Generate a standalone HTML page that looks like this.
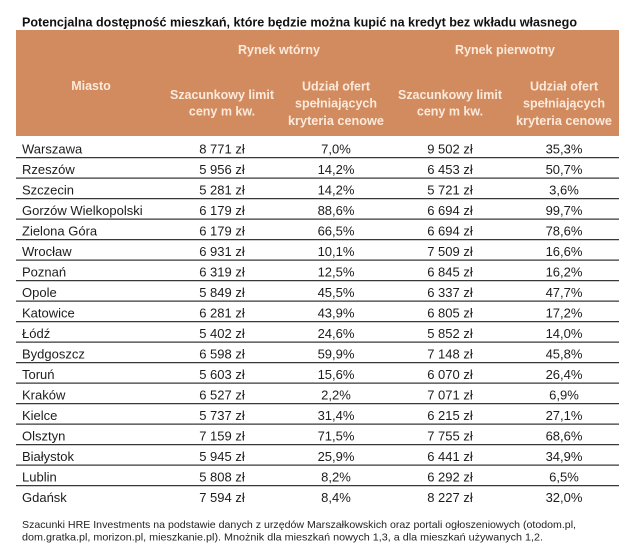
<!DOCTYPE html>
<html><head><meta charset="utf-8"><style>
html,body{margin:0;padding:0;background:#fff;}
svg{display:block;}
.b{font-family:"Liberation Sans",sans-serif;font-size:13px;fill:#1c1c1c;}
.h{font-family:"Liberation Sans",sans-serif;font-size:12.5px;font-weight:bold;fill:#fbeadb;}
</style></head><body>
<svg width="640" height="551" viewBox="0 0 640 551" xmlns="http://www.w3.org/2000/svg">
<rect x="0" y="0" width="640" height="551" fill="#fff"/>
<text x="22" y="26.7" font-family="Liberation Sans, sans-serif" font-size="13" font-weight="bold" fill="#111" textLength="555" lengthAdjust="spacingAndGlyphs">Potencjalna dostępność mieszkań, które będzie można kupić na kredyt bez wkładu własnego</text>
<rect x="16" y="30" width="603" height="106" fill="#d28b5f"/>
<g class="h" text-anchor="middle">
<text x="279" y="54">Rynek wtórny</text>
<text x="505" y="54">Rynek pierwotny</text>
<text x="91" y="90">Miasto</text>
<text x="222" y="99" textLength="104" lengthAdjust="spacingAndGlyphs">Szacunkowy limit</text>
<text x="222" y="115.5">ceny m kw.</text>
<text x="450" y="99" textLength="104" lengthAdjust="spacingAndGlyphs">Szacunkowy limit</text>
<text x="450" y="115.5">ceny m kw.</text>
<text x="336" y="90.5">Udział ofert</text>
<text x="336" y="107.5">spełniających</text>
<text x="336" y="125" textLength="96" lengthAdjust="spacingAndGlyphs">kryteria cenowe</text>
<text x="564" y="90.5">Udział ofert</text>
<text x="564" y="107.5">spełniających</text>
<text x="564" y="125" textLength="96" lengthAdjust="spacingAndGlyphs">kryteria cenowe</text>
</g>
<g stroke="#383838" stroke-width="1.3">
<line x1="16" x2="619" y1="157.6" y2="157.6"/>
<line x1="16" x2="619" y1="178.1" y2="178.1"/>
<line x1="16" x2="619" y1="198.6" y2="198.6"/>
<line x1="16" x2="619" y1="219.1" y2="219.1"/>
<line x1="16" x2="619" y1="239.6" y2="239.6"/>
<line x1="16" x2="619" y1="260.1" y2="260.1"/>
<line x1="16" x2="619" y1="280.6" y2="280.6"/>
<line x1="16" x2="619" y1="301.1" y2="301.1"/>
<line x1="16" x2="619" y1="321.6" y2="321.6"/>
<line x1="16" x2="619" y1="342.1" y2="342.1"/>
<line x1="16" x2="619" y1="362.6" y2="362.6"/>
<line x1="16" x2="619" y1="383.1" y2="383.1"/>
<line x1="16" x2="619" y1="403.6" y2="403.6"/>
<line x1="16" x2="619" y1="424.1" y2="424.1"/>
<line x1="16" x2="619" y1="444.6" y2="444.6"/>
<line x1="16" x2="619" y1="465.1" y2="465.1"/>
<line x1="16" x2="619" y1="485.6" y2="485.6"/>
</g>
<g class="b">
<text x="22" y="153.6">Warszawa</text>
<text x="22" y="174.1">Rzeszów</text>
<text x="22" y="194.6">Szczecin</text>
<text x="22" y="215.1">Gorzów Wielkopolski</text>
<text x="22" y="235.6">Zielona Góra</text>
<text x="22" y="256.1">Wrocław</text>
<text x="22" y="276.6">Poznań</text>
<text x="22" y="297.1">Opole</text>
<text x="22" y="317.6">Katowice</text>
<text x="22" y="338.1">Łódź</text>
<text x="22" y="358.6">Bydgoszcz</text>
<text x="22" y="379.1">Toruń</text>
<text x="22" y="399.6">Kraków</text>
<text x="22" y="420.1">Kielce</text>
<text x="22" y="440.6">Olsztyn</text>
<text x="22" y="461.1">Białystok</text>
<text x="22" y="481.6">Lublin</text>
<text x="22" y="502.1">Gdańsk</text>
</g>
<g class="b" text-anchor="middle">
<text x="222" y="153.6">8 771 zł</text><text x="336" y="153.6">7,0%</text><text x="450" y="153.6">9 502 zł</text><text x="564" y="153.6">35,3%</text>
<text x="222" y="174.1">5 956 zł</text><text x="336" y="174.1">14,2%</text><text x="450" y="174.1">6 453 zł</text><text x="564" y="174.1">50,7%</text>
<text x="222" y="194.6">5 281 zł</text><text x="336" y="194.6">14,2%</text><text x="450" y="194.6">5 721 zł</text><text x="564" y="194.6">3,6%</text>
<text x="222" y="215.1">6 179 zł</text><text x="336" y="215.1">88,6%</text><text x="450" y="215.1">6 694 zł</text><text x="564" y="215.1">99,7%</text>
<text x="222" y="235.6">6 179 zł</text><text x="336" y="235.6">66,5%</text><text x="450" y="235.6">6 694 zł</text><text x="564" y="235.6">78,6%</text>
<text x="222" y="256.1">6 931 zł</text><text x="336" y="256.1">10,1%</text><text x="450" y="256.1">7 509 zł</text><text x="564" y="256.1">16,6%</text>
<text x="222" y="276.6">6 319 zł</text><text x="336" y="276.6">12,5%</text><text x="450" y="276.6">6 845 zł</text><text x="564" y="276.6">16,2%</text>
<text x="222" y="297.1">5 849 zł</text><text x="336" y="297.1">45,5%</text><text x="450" y="297.1">6 337 zł</text><text x="564" y="297.1">47,7%</text>
<text x="222" y="317.6">6 281 zł</text><text x="336" y="317.6">43,9%</text><text x="450" y="317.6">6 805 zł</text><text x="564" y="317.6">17,2%</text>
<text x="222" y="338.1">5 402 zł</text><text x="336" y="338.1">24,6%</text><text x="450" y="338.1">5 852 zł</text><text x="564" y="338.1">14,0%</text>
<text x="222" y="358.6">6 598 zł</text><text x="336" y="358.6">59,9%</text><text x="450" y="358.6">7 148 zł</text><text x="564" y="358.6">45,8%</text>
<text x="222" y="379.1">5 603 zł</text><text x="336" y="379.1">15,6%</text><text x="450" y="379.1">6 070 zł</text><text x="564" y="379.1">26,4%</text>
<text x="222" y="399.6">6 527 zł</text><text x="336" y="399.6">2,2%</text><text x="450" y="399.6">7 071 zł</text><text x="564" y="399.6">6,9%</text>
<text x="222" y="420.1">5 737 zł</text><text x="336" y="420.1">31,4%</text><text x="450" y="420.1">6 215 zł</text><text x="564" y="420.1">27,1%</text>
<text x="222" y="440.6">7 159 zł</text><text x="336" y="440.6">71,5%</text><text x="450" y="440.6">7 755 zł</text><text x="564" y="440.6">68,6%</text>
<text x="222" y="461.1">5 945 zł</text><text x="336" y="461.1">25,9%</text><text x="450" y="461.1">6 441 zł</text><text x="564" y="461.1">34,9%</text>
<text x="222" y="481.6">5 808 zł</text><text x="336" y="481.6">8,2%</text><text x="450" y="481.6">6 292 zł</text><text x="564" y="481.6">6,5%</text>
<text x="222" y="502.1">7 594 zł</text><text x="336" y="502.1">8,4%</text><text x="450" y="502.1">8 227 zł</text><text x="564" y="502.1">32,0%</text>
</g>
<g font-family="Liberation Sans, sans-serif" font-size="10.5" fill="#222">
<text x="22" y="528" textLength="554" lengthAdjust="spacingAndGlyphs">Szacunki HRE Investments na podstawie danych z urzędów Marszałkowskich oraz portali ogłoszeniowych (otodom.pl,</text>
<text x="22" y="540.5" textLength="521" lengthAdjust="spacingAndGlyphs">dom.gratka.pl, morizon.pl, mieszkanie.pl). Mnożnik dla mieszkań nowych 1,3, a dla mieszkań używanych 1,2.</text>
</g>
</svg>
</body></html>
